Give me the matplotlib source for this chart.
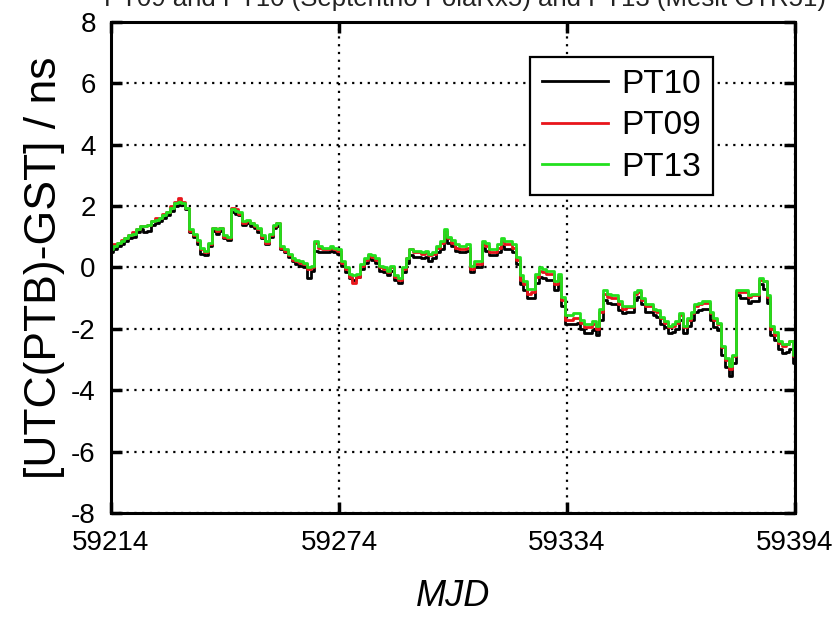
import matplotlib
matplotlib.use("Agg")
import matplotlib.pyplot as plt
import numpy as np

plt.rcParams['font.family'] = ['Liberation Sans', 'DejaVu Sans']
plt.rcParams['axes.unicode_minus'] = False

# MJD axis: daily values starting at 59214
mjd_start = 59214
n_days = 181
mjd = mjd_start + np.arange(n_days)

pt13 = [
    0.6, 0.7, 0.8, 0.85, 0.95, 1.05, 1.1, 1.25, 1.35, 1.35,
    1.4, 1.5, 1.55, 1.6, 1.7, 1.8, 1.95, 2.1, 2.15, 2.1,
    1.95, 1.25, 1.1, 0.9, 0.65, 0.55, 0.8, 1.3, 1.25, 1.3,
    1.05, 1.0, 1.9, 1.85, 1.8, 1.5, 1.55, 1.45, 1.4, 1.3,
    1.05, 0.85, 1.1, 1.4, 1.45, 0.7, 0.6, 0.45, 0.3, 0.25,
    0.2, 0.15, 0.0, 0.05, 0.85, 0.7, 0.65, 0.65, 0.7, 0.65,
    0.6, 0.2, 0.0, -0.2, -0.25, -0.2, 0.1, 0.3, 0.45, 0.4,
    0.3, 0.05, 0.0, -0.1, 0.05, -0.25, -0.35, 0.0, 0.3, 0.6,
    0.55, 0.55, 0.5, 0.55, 0.45, 0.5, 0.7, 0.85, 1.25, 1.0,
    0.9, 0.75, 0.7, 0.7, 0.75, 0.05, 0.2, 0.2, 0.85, 0.8,
    0.6, 0.6, 0.75, 0.95, 0.85, 0.85, 0.75, 0.35, -0.25, -0.45,
    -0.7, -0.7, -0.2, 0.0, -0.05, -0.1, -0.1, -0.45, -0.2, -0.95,
    -1.55, -1.55, -1.5, -1.5, -1.7, -1.85, -1.85, -1.75, -1.9, -1.35,
    -0.75, -0.85, -0.9, -0.9, -1.1, -1.25, -1.25, -1.25, -0.8, -0.75,
    -1.0, -1.2, -1.2, -1.35, -1.4, -1.6, -1.75, -1.9, -1.85, -1.75,
    -1.5, -1.9, -1.65, -1.45, -1.2, -1.15, -1.1, -1.1, -1.45, -1.65,
    -1.8, -2.55, -2.95, -3.2, -2.85, -0.75, -0.75, -0.75, -0.9, -0.85,
    -0.85, -0.35, -0.45, -0.9, -1.9, -2.1, -2.4, -2.5, -2.5, -2.4, -2.85,
]

pt10 = [
    0.5, 0.6, 0.7, 0.75, 0.85, 0.95, 1.0, 1.15, 1.25, 1.15,
    1.2, 1.4, 1.45, 1.5, 1.6, 1.7, 1.85, 2.0, 2.05, 2.05,
    1.9, 1.15, 1.0, 0.75, 0.45, 0.4, 0.7, 1.2, 1.1, 1.2,
    0.95, 0.9, 1.8, 1.75, 1.7, 1.4, 1.45, 1.35, 1.3, 1.15,
    0.95, 0.75, 1.0, 1.3, 1.35, 0.6, 0.5, 0.35, 0.2, 0.1,
    0.05, 0.0, -0.35, -0.1, 0.55, 0.5, 0.5, 0.5, 0.55, 0.5,
    0.45, 0.05, -0.15, -0.35, -0.4, -0.3, -0.05, 0.15, 0.3, 0.25,
    0.15, -0.1, -0.15, -0.25, -0.1, -0.4, -0.5, -0.15, 0.15, 0.4,
    0.35, 0.35, 0.3, 0.35, 0.2, 0.3, 0.5, 0.6, 1.05, 0.8,
    0.7, 0.55, 0.5, 0.5, 0.55, -0.15, 0.0, 0.0, 0.65, 0.55,
    0.4, 0.4, 0.5, 0.7, 0.6, 0.6, 0.5, 0.1, -0.55, -0.75,
    -1.0, -1.0, -0.5, -0.3, -0.35, -0.4, -0.4, -0.75, -0.5, -1.25,
    -1.85, -1.85, -1.85, -1.8, -2.0, -2.15, -2.15, -2.05, -2.2, -1.7,
    -1.05, -1.15, -1.2, -1.2, -1.4, -1.5, -1.45, -1.45, -1.05, -0.95,
    -1.2, -1.45, -1.45, -1.55, -1.6, -1.85, -1.95, -2.15, -2.1, -2.0,
    -1.7, -2.15, -1.9, -1.7, -1.45, -1.4, -1.35, -1.35, -1.7, -1.95,
    -2.05, -2.85, -3.25, -3.55, -3.1, -0.9, -1.0, -1.0, -1.15, -1.1,
    -1.1, -0.55, -0.7, -1.15, -2.2, -2.35, -2.65, -2.8, -2.75, -2.65, -3.1,
]

pt09 = [
    0.7, 0.75, 0.8, 0.9, 0.95, 1.05, 1.15, 1.25, 1.35, 1.35,
    1.4, 1.5, 1.6, 1.6, 1.75, 1.8, 2.0, 2.15, 2.25, 2.15,
    1.95, 1.2, 1.05, 0.85, 0.6, 0.5, 0.75, 1.3, 1.2, 1.3,
    1.0, 0.95, 1.95, 1.9, 1.75, 1.45, 1.5, 1.45, 1.35, 1.25,
    1.0, 0.8, 1.05, 1.35, 1.45, 0.65, 0.55, 0.4, 0.25, 0.2,
    0.15, 0.1, -0.05, 0.0, 0.8, 0.65, 0.6, 0.6, 0.65, 0.6,
    0.55, 0.15, -0.05, -0.3, -0.5, -0.3, 0.05, 0.25, 0.4, 0.35,
    0.25, 0.0, -0.05, -0.15, 0.0, -0.3, -0.4, -0.05, 0.3, 0.6,
    0.5, 0.5, 0.45, 0.5, 0.4, 0.45, 0.65, 0.8, 1.2, 0.95,
    0.8, 0.65, 0.6, 0.6, 0.65, -0.05, 0.1, 0.1, 0.75, 0.7,
    0.5, 0.5, 0.65, 0.85, 0.75, 0.75, 0.65, 0.25, -0.4, -0.55,
    -0.85, -0.8, -0.3, -0.1, -0.15, -0.2, -0.2, -0.55, -0.3, -1.05,
    -1.7, -1.7, -1.65, -1.65, -1.8, -1.95, -1.95, -1.85, -2.0, -1.45,
    -0.85, -0.95, -1.0, -1.0, -1.2, -1.35, -1.3, -1.3, -0.85, -0.8,
    -1.05, -1.25, -1.25, -1.4, -1.45, -1.65, -1.8, -1.95, -1.9, -1.8,
    -1.55, -1.95, -1.7, -1.5, -1.25, -1.2, -1.15, -1.15, -1.5, -1.7,
    -1.85, -2.6, -3.0, -3.3, -2.9, -0.8, -0.8, -0.8, -0.95, -0.9,
    -0.9, -0.4, -0.45, -0.95, -2.0, -2.2, -2.45, -2.55, -2.5, -2.4, -2.9,
]

x_ticks = [59214, 59274, 59334, 59394]
y_ticks = [-8, -6, -4, -2, 0, 2, 4, 6, 8]
title = "PT09 and PT10 (Septentrio PolaRx5) and PT13 (Mesit GTR51)"

fig = plt.figure(figsize=(8.38, 6.18), dpi=100)
ax = fig.add_axes([0.1325, 0.170, 0.8162, 0.7944])

ax.plot(mjd, pt10, drawstyle='steps-mid', color='black', lw=2.0, label='PT10')
ax.plot(mjd, pt09, drawstyle='steps-mid', color='#e8151b', lw=2.0, label='PT09')
ax.plot(mjd, pt13, drawstyle='steps-mid', color='#22e01e', lw=2.0, label='PT13')

ax.set_xlim(59214, 59394)
ax.set_ylim(-8, 8)
ax.set_xticks(x_ticks)
ax.set_yticks(y_ticks)
ax.grid(True, color='black', linestyle=(0, (1, 2.5)), lw=1.6)

ax.tick_params(direction='in', length=8, width=2.5, labelsize=20,
               top=True, right=True)
ax.tick_params(axis='y', pad=11)
ax.tick_params(axis='x', pad=12)
for s in ax.spines.values():
    s.set_linewidth(2.2)

ax.set_xlabel('MJD', fontsize=26, style='italic', labelpad=17)
ax.set_ylabel('[UTC(PTB)-GST] / ns', fontsize=32, labelpad=4)

leg = ax.legend(loc='upper right', bbox_to_anchor=(0.880, 0.929), borderaxespad=0,
                fontsize=24, handlelength=2.0, handletextpad=0.4, borderpad=0.35,
                labelspacing=0.32, fancybox=False, framealpha=1)
leg.get_frame().set_edgecolor('black')
leg.get_frame().set_linewidth(1.6)

fig.text(0.555, 0.991, title, ha='center', va='baseline', fontsize=18.5, color='#222222')

fig.savefig('out.png', dpi=100)
